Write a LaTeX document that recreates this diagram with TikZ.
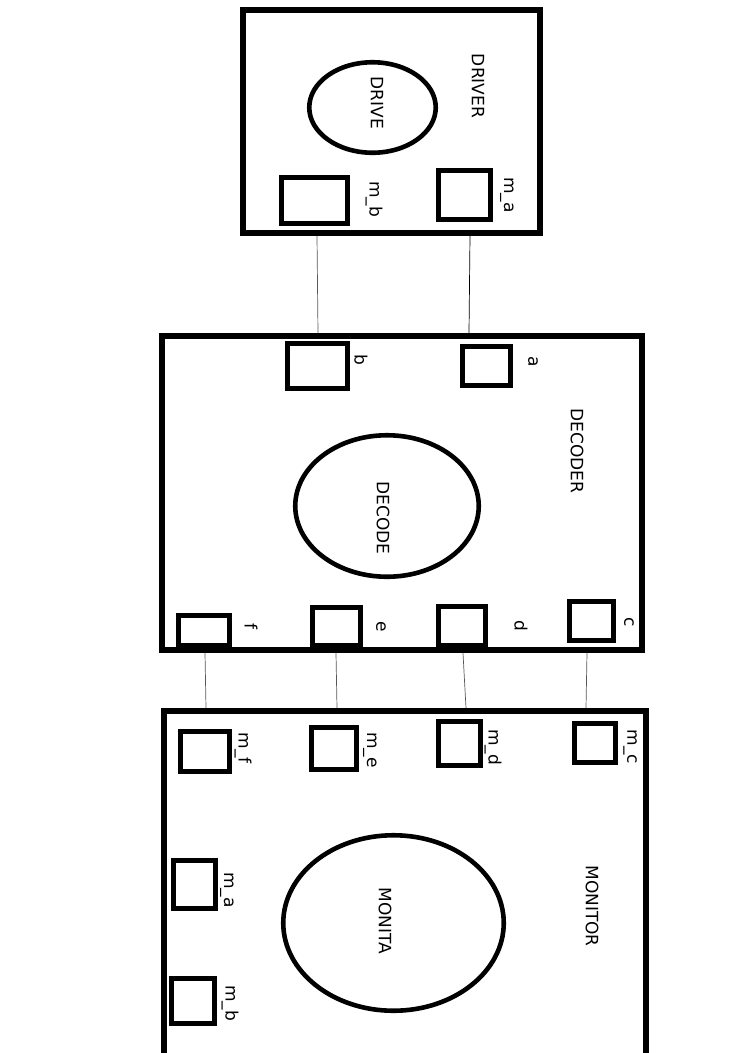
\documentclass[tikz,border=0pt]{standalone}
\usepackage{fontspec}
\setmainfont{DejaVu Sans}
\usetikzlibrary{shapes.geometric}
\tikzset{
  container/.style={draw, line width=6pt, rectangle, inner sep=0pt},
  port/.style={draw, line width=5pt, rectangle, inner sep=0pt},
  proc/.style={draw, ellipse, line width=4.6pt, inner sep=0pt},
  lbl/.style={rotate=-90, font=\fontsize{17}{20}\selectfont, inner sep=0pt},
  wire/.style={draw=black!65, line width=0.7pt}
}
\begin{document}
\begin{tikzpicture}[x=1pt, y=-1pt]
\clip (0,0) rectangle (745,1053);
\fill[white] (0,0) rectangle (745,1053);
% DRIVER
\node[container, minimum width=297, minimum height=223] (driver) at (391.5,121.5) {};
\node[proc, minimum width=126.5, minimum height=90.5] (drive) at (372.5,107.5) {};
\node[lbl] (drivetxt) at (377,103) {DRIVE};
\node[lbl] (drivername) at (478,86) {DRIVER};
\node[port, minimum width=66, minimum height=46] (dmb) at (314.5,200.5) {};
\node[lbl] (dmblbl) at (374,199) {m\_b};
\node[port, minimum width=52, minimum height=49] (dma) at (464.5,195) {};
\node[lbl] (dmalbl) at (507,195) {m\_a};
% DECODER
\node[container, minimum width=480, minimum height=314] (decoder) at (402,493) {};
\node[proc, minimum width=183.5, minimum height=141.5] (decode) at (387,506) {};
\node[lbl] (decodetxt) at (383,518) {DECODE};
\node[lbl] (decodername) at (577,451) {DECODER};
\node[port, minimum width=48, minimum height=39] (pa) at (486.5,366) {};
\node[lbl] (palbl) at (533,362) {a};
\node[port, minimum width=60, minimum height=45] (pb) at (317.5,366) {};
\node[lbl] (pblbl) at (361,360) {b};
\node[port, minimum width=44, minimum height=39] (pc) at (591.5,621) {};
\node[lbl] (pclbl) at (629,622) {c};
\node[port, minimum width=47, minimum height=39] (pd) at (462,626) {};
\node[lbl] (pdlbl) at (521,626) {d};
\node[port, minimum width=48, minimum height=38] (pe) at (336.5,626.5) {};
\node[lbl] (pelbl) at (381,627) {e};
\node[port, minimum width=51, minimum height=30] (pf) at (204,630.5) {};
\node[lbl] (pflbl) at (251,626) {f};
% MONITOR
\node[container, minimum width=482, minimum height=376] (monitor) at (405,899) {};
\node[proc, minimum width=220.5, minimum height=175.5] (monita) at (393.5,923) {};
\node[lbl] (monitatxt) at (385,921) {MONITA};
\node[lbl] (monitorname) at (592,906) {MONITOR};
\node[port, minimum width=49, minimum height=40] (mmf) at (205,751.5) {};
\node[lbl] (mmflbl) at (243,748) {m\_f};
\node[port, minimum width=45, minimum height=42] (mme) at (334,748.5) {};
\node[lbl] (mmelbl) at (370,750) {m\_e};
\node[port, minimum width=42, minimum height=44] (mmd) at (459.5,743.5) {};
\node[lbl] (mmdlbl) at (493,747) {m\_d};
\node[port, minimum width=41, minimum height=39] (mmc) at (595,743) {};
\node[lbl] (mmclbl) at (630,747) {m\_c};
\node[port, minimum width=42, minimum height=48] (mma) at (194.5,884.5) {};
\node[lbl] (mmalbl) at (227,890) {m\_a};
\node[port, minimum width=43, minimum height=45] (mmb) at (193,1001) {};
\node[lbl] (mmblbl) at (230,1003) {m\_b};
% connectors
\draw[wire] (driver.south -| 317,0) -- (decoder.north -| 318,0);
\draw[wire, draw=black] (driver.south -| 470,0) -- (decoder.north -| 469,0);
\draw[wire] (decoder.south -| 205,0) -- (monitor.north -| 206,0);
\draw[wire] (decoder.south -| 336,0) -- (monitor.north -| 337,0);
\draw[wire] (decoder.south -| 463,0) -- (monitor.north -| 466,0);
\draw[wire] (decoder.south -| 587,0) -- (monitor.north -| 586,0);
\end{tikzpicture}
\end{document}
